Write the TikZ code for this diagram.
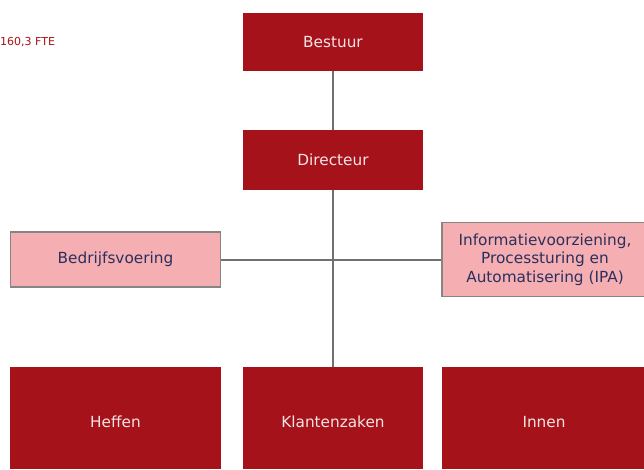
\documentclass[tikz,border=0pt]{standalone}
\usepackage{fontspec}
\setmainfont{DejaVu Sans}
\definecolor{darkred}{HTML}{A6121A}
\definecolor{pinkfill}{HTML}{F5AFB2}
\definecolor{navytxt}{HTML}{2B2F5E}
\definecolor{lightxt}{HTML}{F4E4E6}
\definecolor{linegray}{HTML}{707070}
\definecolor{bordergray}{HTML}{858585}
\begin{document}
\begin{tikzpicture}[x=1pt,y=-1pt,
  boxfont/.style={font=\fontsize{15.3}{18.5}\selectfont},
  redtext/.style={boxfont,text=lightxt,inner sep=0pt},
  redbox/.style={fill=darkred,draw=none},
  pinkbox/.style={boxfont,fill=pinkfill,draw=bordergray,line width=1.5pt,text=navytxt,align=center,inner sep=0pt},
  conn/.style={draw=linegray,line width=1.5pt}]
\useasboundingbox (0,0) rectangle (644,469);
\path[redbox] (243,13) rectangle (423,71);
\node[redtext] (bestuur) at (333,42) {Bestuur};
\path[redbox] (243,130) rectangle (423,190);
\node[redtext] (directeur) at (333,160) {Directeur};
\coordinate (bestuurS) at (333,71);
\coordinate (directeurN) at (333,130);
\coordinate (directeurS) at (333,190);
\coordinate (klantN) at (333,367);
\coordinate (bedrE) at (221,260);
\coordinate (ipaW) at (441,260);
\draw[conn] (bestuurS) -- (directeurN);
\draw[conn] (directeurS) -- (klantN);
\draw[conn] (bedrE) -- (ipaW);
\node[pinkbox,minimum width=210pt,minimum height=55pt] (bedrijf) at (115.5,259.5) {Bedrijfsvoering};
\node[pinkbox,minimum width=206pt,minimum height=74pt] (ipa) at (545,259.5) {Informatievoorziening,\\Processturing en\\Automatisering (IPA)};
\path[redbox] (10,367) rectangle (221,469);
\node[redtext] (heffen) at (115.5,422) {Heffen};
\path[redbox] (243,367) rectangle (423,469);
\node[redtext] (klant) at (333,422) {Klantenzaken};
\path[redbox] (442,367) rectangle (644,469);
\node[redtext] (innen) at (544,422) {Innen};
\node[anchor=west,text=darkred,font=\fontsize{11}{13}\selectfont,inner sep=0pt] (fte) at (0,42) {160,3 FTE};
\end{tikzpicture}
\end{document}
